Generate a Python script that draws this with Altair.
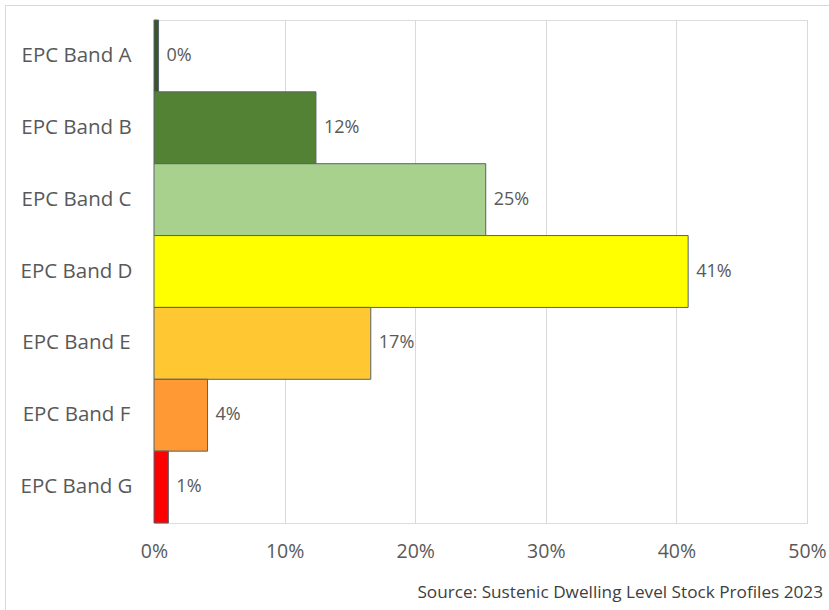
import altair as alt
import pandas as pd

bands = ["EPC Band A", "EPC Band B", "EPC Band C", "EPC Band D",
         "EPC Band E", "EPC Band F", "EPC Band G"]
shares = [0.35, 12.4, 25.4, 40.9, 16.6, 4.1, 1.1]  # percent
colors = ["#375623", "#548235", "#A9D18E", "#FFFF00",
          "#FFC832", "#FF9933", "#FF0000"]
x_ticks = [0, 0.1, 0.2, 0.3, 0.4, 0.5]
source_text = "Source: Sustenic Dwelling Level Stock Profiles 2023"

df = pd.DataFrame({"band": bands, "share": [s / 100 for s in shares]})

FONT = "Open Sans"
GREY = "#595959"

x_enc = alt.X(
    "share:Q",
    scale=alt.Scale(domain=[0, 0.5], nice=False, zero=True),
    axis=alt.Axis(values=x_ticks, format=".0%", title=None, domain=False,
                  ticks=False, grid=True, gridColor="#d9d9d9", gridWidth=1,
                  labelFont=FONT, labelFontSize=19.5, labelColor=GREY,
                  labelPadding=19, labelFlush=False),
)
y_enc = alt.Y(
    "band:N", sort=bands,
    scale=alt.Scale(paddingInner=0, paddingOuter=0),
    axis=alt.Axis(title=None, domain=False, ticks=False, grid=False,
                  labelFont=FONT, labelFontSize=20.5, labelColor=GREY,
                  labelAlign="center", labelPadding=78),
)

bars = alt.Chart(df).mark_bar(stroke="#56606e", strokeWidth=1).encode(
    x=x_enc,
    y=y_enc,
    color=alt.Color("band:N", scale=alt.Scale(domain=bands, range=colors),
                    legend=None),
)

labels = alt.Chart(df).mark_text(
    align="left", baseline="middle", dx=8, font=FONT, fontSize=18, color=GREY
).encode(
    x="share:Q",
    y=alt.Y("band:N", sort=bands),
    text=alt.Text("share:Q", format=".0%"),
)

frame = alt.Chart(alt.Data(values=[{"t": source_text}]))
left_border = frame.mark_rule(color="#d9d9d9", strokeWidth=1).encode(
    x=alt.value(-148.5), y=alt.value(-14.5), y2=alt.value(700))
top_border = frame.mark_rule(color="#d9d9d9", strokeWidth=1).encode(
    x=alt.value(-148.5), x2=alt.value(800), y=alt.value(-14.5))
source = frame.mark_text(
    align="right", baseline="middle", font=FONT, fontSize=17.2, color="#404040"
).encode(x=alt.value(669), y=alt.value(573), text="t:N")

chart = alt.layer(left_border, top_border, bars, labels, source).properties(
    width=653, height=503,
    autosize=alt.AutoSizeParams(type="none"),
    padding={"left": 154, "top": 20, "right": 22, "bottom": 87},
).configure_view(stroke=None).configure(background="white")

chart.save("out.html", embed_options={"renderer": "svg", "actions": False})
